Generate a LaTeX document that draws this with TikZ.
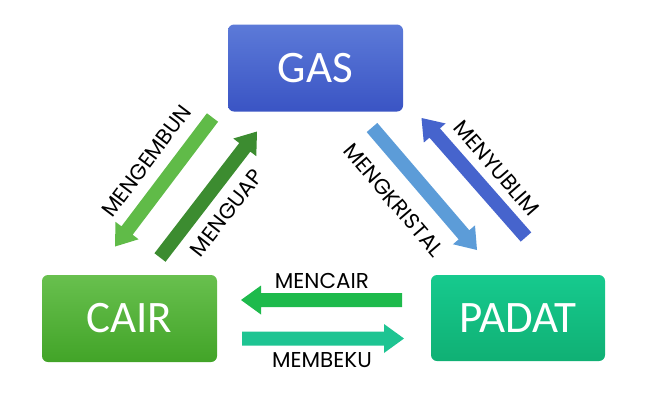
\documentclass[tikz,border=0pt]{standalone}
\usepackage{fontspec}
\newfontfamily\boxfont{Carlito}
\newfontfamily\lblfontfam{Poppins}
\newcommand\advfont{\lblfontfam\fontsize{21.5}{25}\selectfont}
\usetikzlibrary{calc}
\definecolor{gasT}{RGB}{92,122,216}
\definecolor{gasB}{RGB}{58,84,196}
\definecolor{cairT}{RGB}{104,192,78}
\definecolor{cairB}{RGB}{66,164,40}
\definecolor{padT}{RGB}{22,202,142}
\definecolor{padB}{RGB}{16,176,116}
\definecolor{cEmbun}{RGB}{96,187,72}
\definecolor{cUap}{RGB}{60,140,48}
\definecolor{cKristal}{RGB}{92,156,216}
\definecolor{cYublim}{RGB}{70,100,205}
\definecolor{cCair}{RGB}{30,186,76}
\definecolor{cBeku}{RGB}{30,196,146}
\newcommand\fatarrow[3]{%
  \coordinate (hh) at ($(#3)!20pt!(#2)$);
  \fill[#1] ($(#2)!7pt!90:(#3)$) -- ($(hh)!7pt!-90:(#2)$) -- ($(hh)!14.5pt!-90:(#2)$) -- (#3)
    -- ($(hh)!14.5pt!90:(#2)$) -- ($(hh)!7pt!90:(#2)$) -- ($(#2)!7pt!-90:(#3)$) -- cycle;}
\begin{document}
\begin{tikzpicture}[x=1pt,y=-1pt,
  state/.style={rounded corners=6pt, minimum width=175pt, minimum height=87pt,
    text=white, font=\boxfont\fontsize{45}{50}\selectfont, inner sep=0pt},
  lbl/.style={font=\advfont, text=black, inner sep=0pt}]
\useasboundingbox (0,0) rectangle (645,405);
\node[state, top color=gasT, bottom color=gasB] (gas) at (315.5,68) {GAS};
\node[state, top color=cairT, bottom color=cairB] (cair) at (129.5,318.5) {CAIR};
\node[state, top color=padT, bottom color=padB, minimum width=174pt, minimum height=86pt] (padat) at (518,318) {PADAT};
% arrow endpoints
\coordinate (emb-s) at (212.5,117.5);
\coordinate (emb-e) at (115,246.5);
\coordinate (uap-s) at (160,257.5);
\coordinate (uap-e) at (257,131.5);
\coordinate (kri-s) at (372,127.5);
\coordinate (kri-e) at (477,250);
\coordinate (yub-s) at (526,237);
\coordinate (yub-e) at (421.5,118);
\coordinate (cai-s) at (402,300);
\coordinate (cai-e) at (241,300);
\coordinate (bek-s) at (242,338.5);
\coordinate (bek-e) at (404,338.5);
\fatarrow{cEmbun}{emb-s}{emb-e}
\fatarrow{cUap}{uap-s}{uap-e}
\fatarrow{cKristal}{kri-s}{kri-e}
\fatarrow{cYublim}{yub-s}{yub-e}
\fatarrow{cCair}{cai-s}{cai-e}
\fatarrow{cBeku}{bek-s}{bek-e}
% labels
\node[lbl, rotate=53] (l-emb) at (146.5,161) {MENGEMBUN};
\node[lbl, rotate=52] (l-uap) at (226.5,213) {MENGUAP};
\node[lbl, rotate=-49.5] (l-kri) at (393.5,200) {MENGKRISTAL};
\node[lbl, rotate=-49] (l-yub) at (496.5,168) {MENYUBLIM};
\node[lbl] (l-cai) at (322,280.5) {MENCAIR};
\node[lbl] (l-bek) at (322,360) {MEMBEKU};
\end{tikzpicture}
\end{document}
